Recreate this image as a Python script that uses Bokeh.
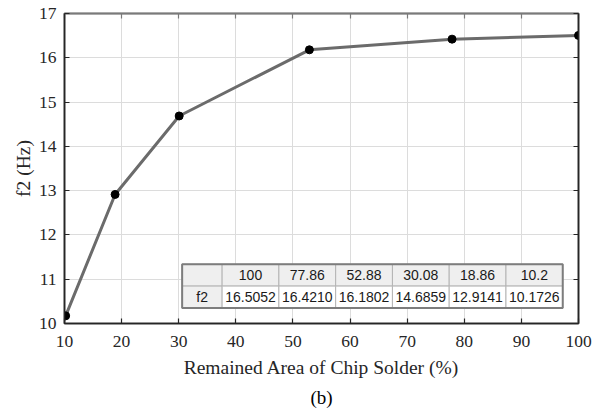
from bokeh.plotting import figure
from bokeh.models import Range1d, LinearAxis, FixedTicker, Title, ColumnDataSource
from bokeh.core.properties import value
from bokeh.embed import file_html
from bokeh.resources import INLINE

# Remained solder area (%) and second natural frequency f2 (Hz)
area = [10.2, 18.86, 30.08, 52.88, 77.86, 100]
f2 = [10.1726, 12.9141, 14.6859, 16.1802, 16.4210, 16.5052]

# Table contents (listed from largest area to smallest)
table_area = ["100", "77.86", "52.88", "30.08", "18.86", "10.2"]
table_f2 = ["16.5052", "16.4210", "16.1802", "14.6859", "12.9141", "10.1726"]
row_label = "f2"

x_ticks = [10, 20, 30, 40, 50, 60, 70, 80, 90, 100]
y_ticks = [10, 11, 12, 13, 14, 15, 16, 17]

SERIF = "Liberation Serif"
SANS = "Liberation Sans"
AX = "#262626"

p = figure(width=606, height=417, output_backend="svg", toolbar_location=None,
           x_range=Range1d(10, 100), y_range=Range1d(10, 17),
           min_border_left=64, min_border_right=28, min_border_top=13,
           min_border_bottom=94, x_axis_location=None, y_axis_location=None)
p.background_fill_color = "white"
p.border_fill_color = "white"
p.outline_line_color = "#7a7a7a"
p.outline_line_width = 2


def style_axis(ax, ticks, labels=True, color=AX):
    ax.ticker = FixedTicker(ticks=ticks)
    ax.axis_line_color = color
    ax.axis_line_width = 1.5
    ax.major_tick_line_color = color
    ax.major_tick_line_width = 1.2
    ax.major_tick_in = 5
    ax.major_tick_out = 0
    ax.minor_tick_line_color = None
    ax.major_label_text_font = SERIF
    ax.major_label_text_font_size = "17.5px"
    ax.major_label_text_color = AX
    if not labels:
        ax.major_label_overrides = {t: "" for t in ticks}
        ax.major_label_standoff = 0


xb = LinearAxis(axis_label="Remained Area of Chip Solder (%)")
style_axis(xb, x_ticks)
xb.major_label_standoff = 12
xb.axis_label_text_font = SERIF
xb.axis_label_text_font_style = "normal"
xb.axis_label_text_font_size = "19.5px"
xb.axis_label_text_color = AX
xb.axis_label_standoff = 7
p.add_layout(xb, "below")

yl = LinearAxis(axis_label="f2 (Hz)")
style_axis(yl, y_ticks)
yl.major_label_standoff = 8
yl.axis_label_text_font = SERIF
yl.axis_label_text_font_style = "normal"
yl.axis_label_text_font_size = "19.5px"
yl.axis_label_text_color = AX
yl.axis_label_standoff = 2
p.add_layout(yl, "left")

xt = LinearAxis()
style_axis(xt, x_ticks, labels=False, color="#7a7a7a")
p.add_layout(xt, "above")

yr = LinearAxis()
style_axis(yr, y_ticks, labels=False)
p.add_layout(yr, "right")

p.add_layout(Title(text="(b)", align="center", text_font=SERIF,
                   text_font_size="19px", text_font_style="normal",
                   text_color="black", standoff=9), "below")

p.xgrid.ticker = FixedTicker(ticks=x_ticks)
p.ygrid.ticker = FixedTicker(ticks=y_ticks)
p.xgrid.grid_line_color = "#dcdcdc"
p.ygrid.grid_line_color = "#dcdcdc"

# data curve
p.line(area, f2, line_color="#6b6b6b", line_width=3)
p.scatter(area, f2, size=8, fill_color="black", line_color="black")

# embedded data table (data-space layout)
t_left, t_top = 30.6, 11.34
first_w, col_w, row_h = 7.0, 9.94, 0.495
n = len(table_area)

cells_l, cells_r, cells_t, cells_b, fills = [], [], [], [], []
for r in range(2):
    top = t_top - r * row_h
    cells_l.append(t_left); cells_r.append(t_left + first_w)
    cells_t.append(top); cells_b.append(top - row_h); fills.append("#efefef")
    for c in range(n):
        l = t_left + first_w + c * col_w
        cells_l.append(l); cells_r.append(l + col_w)
        cells_t.append(top); cells_b.append(top - row_h)
        fills.append("#efefef" if r == 0 else "white")
p.quad(left=cells_l, right=cells_r, top=cells_t, bottom=cells_b,
       fill_color=fills, line_color="#b4b4b4", line_width=1)
p.quad(left=[t_left], right=[t_left + first_w + n * col_w], top=[t_top],
       bottom=[t_top - 2 * row_h], fill_color=None, line_color="#7d7d7d",
       line_width=2)

col_centers = [t_left + first_w + (c + 0.5) * col_w for c in range(n)]
src_head = ColumnDataSource(dict(x=col_centers, y=[t_top - 0.5 * row_h] * n, t=table_area))
src_row = ColumnDataSource(dict(x=col_centers, y=[t_top - 1.5 * row_h] * n, t=table_f2))
for src in (src_head, src_row):
    p.text(x="x", y="y", text="t", source=src, text_align="center",
           text_baseline="middle", text_font=value(SANS),
           text_font_size="14px", text_color="#1a1a1a")
p.text(x=[t_left + first_w / 2], y=[t_top - 1.5 * row_h], text=[row_label],
       text_align="center", text_baseline="middle", text_font=value(SANS),
       text_font_size="14px", text_color="#1a1a1a")

open("out.html", "w").write(file_html(p, INLINE))
